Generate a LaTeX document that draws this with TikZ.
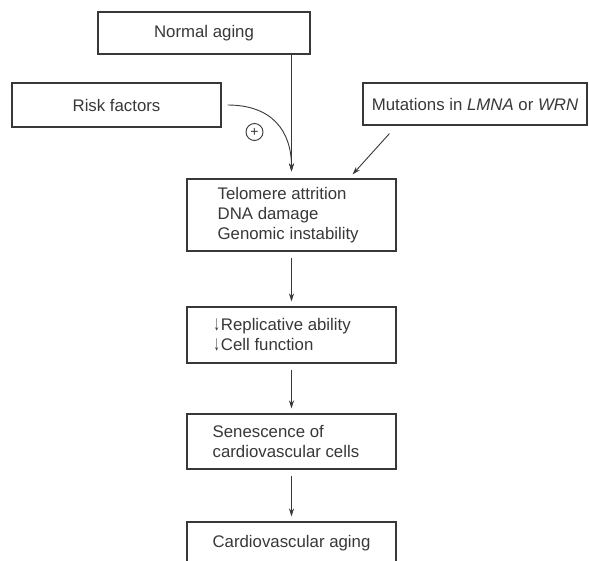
\documentclass[tikz,border=0pt]{standalone}
\usepackage{fontspec}
\usepackage{graphicx}
\setmainfont{Liberation Sans}
\usetikzlibrary{arrows.meta,calc}
\definecolor{ink}{HTML}{383838}
\newcommand\dnarr{\scalebox{0.75}[1.25]{↓}\kern1pt}
\begin{document}
\begin{tikzpicture}[x=1pt,y=-1pt,
  box/.style={draw=ink, line width=1.1pt, minimum height=42pt, inner sep=0pt, text=ink, font=\fontsize{16.8}{20}\selectfont},
  lbl/.style={anchor=west, align=left, inner sep=0pt, text=ink, font=\fontsize{16.8}{20}\selectfont},
  conn/.style={draw=ink, line width=0.9pt, -{Stealth[length=8pt,width=5pt]}},
  vconn/.style={conn, shorten <=6pt, shorten >=5pt},
]
\useasboundingbox (0,0) rectangle (589,560);
\clip (0,0) rectangle (589,560);
\fill[white] (0,0) rectangle (589,560);

\node[box, minimum width=212pt] (na) at (204,33) {Normal aging};
\node[box, minimum width=209pt, minimum height=44pt] (rf) at (116.5,105) {Risk factors};
\node[box, minimum width=224pt] (mu) at (475,104) {Mutations in \textit{LMNA} or \textit{WRN}};

\node[box, minimum width=209pt, minimum height=72pt] (te) at (291.5,215) {};
\node[lbl] (tet) at ($(te.west)+(31,0)$) {Telomere attrition\\DNA damage\\Genomic instability};

\node[box, minimum width=209pt, minimum height=56pt] (rp) at (291.5,335) {};
\node[lbl] (rpt) at ($(rp.west)+(27,0)$) {\dnarr Replicative ability\\\dnarr Cell function};

\node[box, minimum width=209pt, minimum height=55pt] (se) at (291.5,441.5) {};
\node[lbl] (set) at ($(se.west)+(26,0)$) {Senescence of\\cardiovascular cells};

\node[box, minimum width=209pt, minimum height=42pt] (cv) at (291.5,543) {Cardiovascular aging};

\node[circle, draw=ink, line width=0.9pt, minimum size=17pt, inner sep=0pt, text=ink, font=\fontsize{14}{14}\selectfont] (plus) at (254.5,132) {+};

\draw[conn] (na.south -| te.north) -- ([yshift=7pt]te.north);
\draw[conn] ([xshift=6pt]rf.east) .. controls +(45,0) and +(0,-40) .. ([yshift=7pt]te.north);
\draw[conn] ($(mu.south west)+(27,8)$) -- ($(te.north east)+(-44,-4)$);

\draw[vconn] (te) -- (rp);
\draw[vconn] (rp) -- (se);
\draw[vconn] (se) -- (cv);
\end{tikzpicture}
\end{document}
